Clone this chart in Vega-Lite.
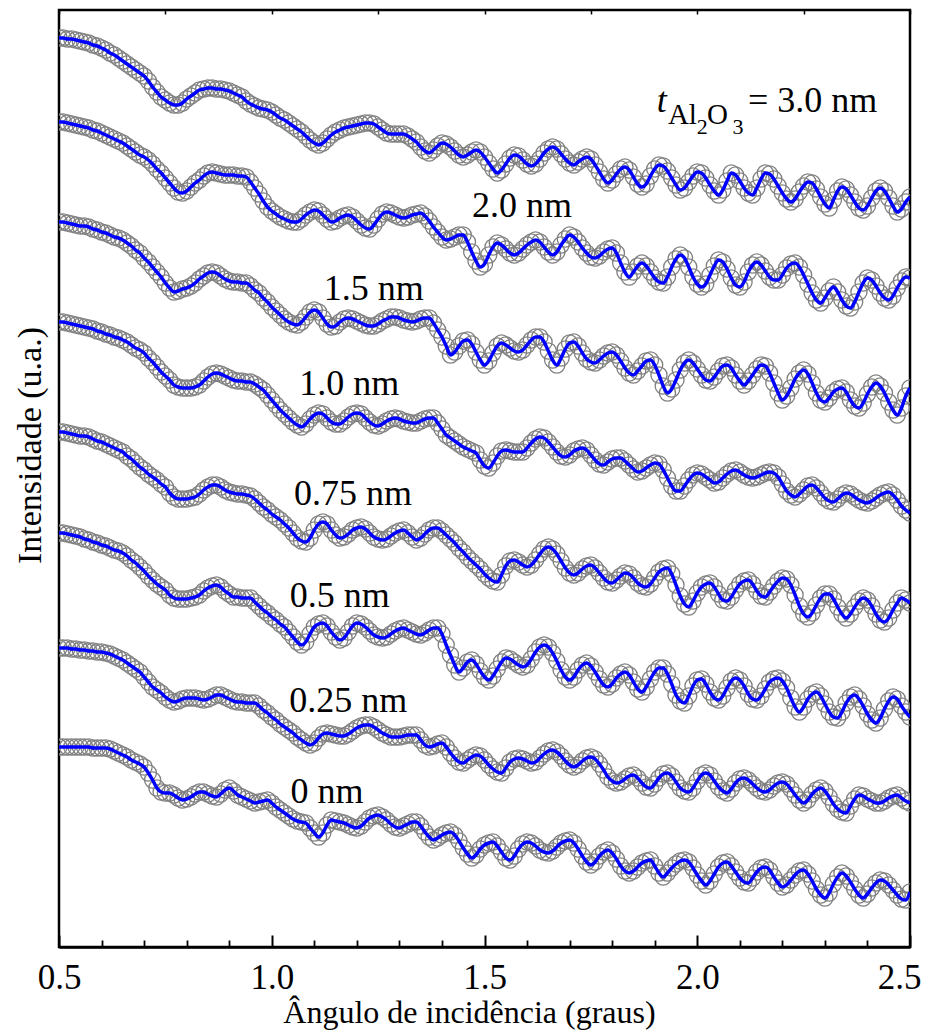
{
"$schema": "https://vega.github.io/schema/vega-lite/v6.json",
"width": 851, "height": 937,
"autosize": "none",
"padding": {"left": 59, "top": 10, "right": 20, "bottom": 86},
"background": "white",
"config": {"view": {"stroke": "black", "strokeWidth": 2.5}, "font": "'Liberation Serif', 'DejaVu Serif', serif"},
"datasets": {
"curves": [
{"x":0.50,"A":962,"B":878,"C":778,"D":678,"E":568,"F":467,"G":352,"H":253},
{"x":0.51,"A":962,"B":878,"C":778,"D":678,"E":568,"F":467,"G":352,"H":253},
{"x":0.52,"A":961,"B":877,"C":777,"D":677,"E":567,"F":466,"G":352,"H":253},
{"x":0.53,"A":961,"B":876,"C":776,"D":676,"E":566,"F":465,"G":351,"H":253},
{"x":0.54,"A":960,"B":875,"C":775,"D":675,"E":565,"F":464,"G":351,"H":253},
{"x":0.55,"A":959,"B":874,"C":774,"D":674,"E":564,"F":463,"G":350,"H":253},
{"x":0.56,"A":958,"B":873,"C":774,"D":673,"E":564,"F":461,"G":350,"H":253},
{"x":0.57,"A":957,"B":872,"C":773,"D":672,"E":563,"F":460,"G":349,"H":253},
{"x":0.58,"A":955,"B":870,"C":771,"D":671,"E":561,"F":458,"G":349,"H":252},
{"x":0.59,"A":954,"B":869,"C":770,"D":669,"E":559,"F":457,"G":348,"H":252},
{"x":0.60,"A":952,"B":867,"C":768,"D":668,"E":558,"F":455,"G":348,"H":252},
{"x":0.61,"A":950,"B":865,"C":767,"D":666,"E":556,"F":454,"G":347,"H":252},
{"x":0.62,"A":947,"B":863,"C":765,"D":665,"E":554,"F":452,"G":346,"H":251},
{"x":0.63,"A":945,"B":861,"C":763,"D":663,"E":552,"F":450,"G":344,"H":249},
{"x":0.64,"A":942,"B":859,"C":762,"D":662,"E":550,"F":449,"G":342,"H":247},
{"x":0.65,"A":939,"B":857,"C":760,"D":660,"E":548,"F":447,"G":340,"H":245},
{"x":0.66,"A":936,"B":854,"C":757,"D":658,"E":544,"F":444,"G":337,"H":243},
{"x":0.67,"A":933,"B":851,"C":754,"D":655,"E":541,"F":440,"G":334,"H":240},
{"x":0.68,"A":930,"B":848,"C":750,"D":652,"E":537,"F":437,"G":331,"H":238},
{"x":0.69,"A":927,"B":845,"C":747,"D":650,"E":533,"F":433,"G":328,"H":236},
{"x":0.70,"A":924,"B":843,"C":742,"D":647,"E":530,"F":429,"G":323,"H":233},
{"x":0.71,"A":919,"B":840,"C":738,"D":642,"E":526,"F":424,"G":318,"H":227},
{"x":0.72,"A":913,"B":836,"C":733,"D":638,"E":523,"F":420,"G":313,"H":220},
{"x":0.73,"A":908,"B":831,"C":728,"D":633,"E":520,"F":416,"G":310,"H":212},
{"x":0.74,"A":903,"B":827,"C":723,"D":628,"E":516,"F":413,"G":307,"H":208},
{"x":0.75,"A":900,"B":822,"C":717,"D":624,"E":513,"F":410,"G":303,"H":207},
{"x":0.76,"A":897,"B":817,"C":712,"D":620,"E":507,"F":405,"G":300,"H":207},
{"x":0.77,"A":895,"B":812,"C":708,"D":615,"E":503,"F":402,"G":298,"H":205},
{"x":0.78,"A":895,"B":808,"C":709,"D":613,"E":501,"F":401,"G":299,"H":202},
{"x":0.79,"A":897,"B":807,"C":711,"D":612,"E":501,"F":401,"G":301,"H":200},
{"x":0.80,"A":901,"B":809,"C":712,"D":612,"E":501,"F":401,"G":302,"H":201},
{"x":0.81,"A":904,"B":813,"C":714,"D":612,"E":502,"F":402,"G":302,"H":203},
{"x":0.82,"A":907,"B":817,"C":717,"D":613,"E":503,"F":403,"G":302,"H":206},
{"x":0.83,"A":910,"B":820,"C":721,"D":615,"E":506,"F":405,"G":301,"H":208},
{"x":0.84,"A":911,"B":824,"C":724,"D":619,"E":510,"F":409,"G":300,"H":208},
{"x":0.85,"A":912,"B":827,"C":727,"D":623,"E":513,"F":412,"G":301,"H":206},
{"x":0.86,"A":912,"B":828,"C":728,"D":626,"E":515,"F":414,"G":303,"H":204},
{"x":0.87,"A":911,"B":827,"C":727,"D":627,"E":515,"F":415,"G":305,"H":203},
{"x":0.88,"A":911,"B":826,"C":724,"D":626,"E":513,"F":413,"G":305,"H":206},
{"x":0.89,"A":910,"B":825,"C":721,"D":624,"E":510,"F":409,"G":303,"H":210},
{"x":0.90,"A":909,"B":825,"C":719,"D":622,"E":508,"F":406,"G":301,"H":212},
{"x":0.91,"A":907,"B":825,"C":718,"D":620,"E":507,"F":403,"G":299,"H":209},
{"x":0.92,"A":905,"B":824,"C":718,"D":619,"E":506,"F":403,"G":298,"H":205},
{"x":0.93,"A":903,"B":824,"C":717,"D":619,"E":506,"F":402,"G":298,"H":203},
{"x":0.94,"A":899,"B":823,"C":717,"D":618,"E":505,"F":402,"G":297,"H":201},
{"x":0.95,"A":896,"B":818,"C":714,"D":618,"E":504,"F":402,"G":297,"H":199},
{"x":0.96,"A":894,"B":812,"C":710,"D":616,"E":501,"F":398,"G":297,"H":197},
{"x":0.97,"A":892,"B":806,"C":707,"D":613,"E":497,"F":394,"G":294,"H":198},
{"x":0.98,"A":891,"B":799,"C":702,"D":610,"E":493,"F":390,"G":290,"H":199},
{"x":0.99,"A":890,"B":793,"C":698,"D":605,"E":490,"F":387,"G":287,"H":200},
{"x":1.00,"A":888,"B":789,"C":693,"D":600,"E":486,"F":383,"G":283,"H":197},
{"x":1.01,"A":885,"B":786,"C":689,"D":595,"E":483,"F":380,"G":280,"H":193},
{"x":1.02,"A":882,"B":783,"C":685,"D":590,"E":480,"F":376,"G":276,"H":190},
{"x":1.03,"A":880,"B":781,"C":681,"D":586,"E":476,"F":373,"G":273,"H":187},
{"x":1.04,"A":877,"B":779,"C":678,"D":582,"E":472,"F":368,"G":270,"H":184},
{"x":1.05,"A":874,"B":778,"C":676,"D":578,"E":467,"F":363,"G":267,"H":181},
{"x":1.06,"A":871,"B":778,"C":675,"D":575,"E":462,"F":358,"G":263,"H":179},
{"x":1.07,"A":868,"B":781,"C":678,"D":573,"E":459,"F":355,"G":260,"H":178},
{"x":1.08,"A":864,"B":785,"C":683,"D":576,"E":458,"F":358,"G":257,"H":177},
{"x":1.09,"A":860,"B":788,"C":688,"D":581,"E":462,"F":366,"G":255,"H":172},
{"x":1.10,"A":857,"B":790,"C":690,"D":585,"E":470,"F":373,"G":257,"H":167},
{"x":1.11,"A":855,"B":789,"C":688,"D":587,"E":476,"F":376,"G":262,"H":163},
{"x":1.12,"A":857,"B":785,"C":682,"D":586,"E":478,"F":377,"G":266,"H":167},
{"x":1.13,"A":861,"B":781,"C":676,"D":582,"E":476,"F":374,"G":267,"H":175},
{"x":1.14,"A":865,"B":778,"C":673,"D":578,"E":470,"F":368,"G":266,"H":180},
{"x":1.15,"A":868,"B":779,"C":674,"D":576,"E":465,"F":363,"G":265,"H":179},
{"x":1.16,"A":870,"B":782,"C":678,"D":576,"E":462,"F":360,"G":264,"H":178},
{"x":1.17,"A":872,"B":784,"C":681,"D":579,"E":463,"F":362,"G":264,"H":177},
{"x":1.18,"A":873,"B":785,"C":682,"D":583,"E":466,"F":368,"G":266,"H":175},
{"x":1.19,"A":874,"B":783,"C":681,"D":586,"E":470,"F":374,"G":269,"H":173},
{"x":1.20,"A":875,"B":779,"C":679,"D":587,"E":472,"F":377,"G":272,"H":172},
{"x":1.21,"A":876,"B":775,"C":677,"D":586,"E":473,"F":376,"G":274,"H":174},
{"x":1.22,"A":877,"B":772,"C":675,"D":582,"E":471,"F":373,"G":275,"H":178},
{"x":1.23,"A":877,"B":771,"C":674,"D":578,"E":467,"F":369,"G":275,"H":182},
{"x":1.24,"A":876,"B":775,"C":674,"D":575,"E":463,"F":365,"G":273,"H":184},
{"x":1.25,"A":873,"B":781,"C":676,"D":574,"E":461,"F":363,"G":270,"H":185},
{"x":1.26,"A":870,"B":786,"C":679,"D":576,"E":460,"F":362,"G":267,"H":183},
{"x":1.27,"A":867,"B":788,"C":681,"D":579,"E":461,"F":363,"G":265,"H":180},
{"x":1.28,"A":866,"B":787,"C":683,"D":581,"E":464,"F":366,"G":263,"H":176},
{"x":1.29,"A":866,"B":785,"C":683,"D":582,"E":467,"F":369,"G":263,"H":173},
{"x":1.30,"A":866,"B":783,"C":682,"D":581,"E":469,"F":371,"G":263,"H":172},
{"x":1.31,"A":866,"B":782,"C":680,"D":579,"E":470,"F":372,"G":264,"H":174},
{"x":1.32,"A":864,"B":783,"C":679,"D":578,"E":467,"F":370,"G":265,"H":176},
{"x":1.33,"A":861,"B":785,"C":678,"D":577,"E":463,"F":368,"G":265,"H":178},
{"x":1.34,"A":858,"B":786,"C":679,"D":577,"E":460,"F":366,"G":265,"H":178},
{"x":1.35,"A":853,"B":787,"C":681,"D":579,"E":462,"F":365,"G":260,"H":174},
{"x":1.36,"A":849,"B":784,"C":682,"D":581,"E":466,"F":367,"G":255,"H":168},
{"x":1.37,"A":847,"B":779,"C":682,"D":582,"E":470,"F":370,"G":253,"H":163},
{"x":1.38,"A":850,"B":773,"C":677,"D":582,"E":472,"F":372,"G":254,"H":160},
{"x":1.39,"A":854,"B":768,"C":670,"D":577,"E":472,"F":372,"G":256,"H":162},
{"x":1.40,"A":857,"B":763,"C":663,"D":571,"E":469,"F":366,"G":257,"H":165},
{"x":1.41,"A":856,"B":760,"C":654,"D":565,"E":465,"F":355,"G":253,"H":167},
{"x":1.42,"A":853,"B":761,"C":645,"D":562,"E":461,"F":345,"G":247,"H":168},
{"x":1.43,"A":849,"B":763,"C":648,"D":559,"E":457,"F":335,"G":242,"H":165},
{"x":1.44,"A":845,"B":765,"C":654,"D":556,"E":452,"F":328,"G":238,"H":159},
{"x":1.45,"A":843,"B":765,"C":659,"D":553,"E":448,"F":332,"G":237,"H":152},
{"x":1.46,"A":845,"B":758,"C":660,"D":551,"E":443,"F":338,"G":240,"H":146},
{"x":1.47,"A":848,"B":748,"C":656,"D":549,"E":439,"F":340,"G":243,"H":142},
{"x":1.48,"A":850,"B":739,"C":648,"D":547,"E":435,"F":336,"G":245,"H":145},
{"x":1.49,"A":848,"B":733,"C":640,"D":540,"E":431,"F":329,"G":244,"H":151},
{"x":1.50,"A":843,"B":736,"C":635,"D":534,"E":426,"F":323,"G":240,"H":155},
{"x":1.51,"A":837,"B":745,"C":639,"D":532,"E":422,"F":320,"G":235,"H":157},
{"x":1.52,"A":831,"B":753,"C":647,"D":537,"E":419,"F":324,"G":231,"H":158},
{"x":1.53,"A":827,"B":757,"C":654,"D":544,"E":418,"F":331,"G":228,"H":154},
{"x":1.54,"A":830,"B":755,"C":657,"D":549,"E":425,"F":338,"G":227,"H":148},
{"x":1.55,"A":836,"B":751,"C":655,"D":550,"E":434,"F":342,"G":232,"H":142},
{"x":1.56,"A":842,"B":747,"C":652,"D":549,"E":439,"F":341,"G":238,"H":140},
{"x":1.57,"A":845,"B":745,"C":649,"D":548,"E":440,"F":338,"G":241,"H":144},
{"x":1.58,"A":844,"B":747,"C":648,"D":548,"E":438,"F":335,"G":242,"H":151},
{"x":1.59,"A":840,"B":751,"C":650,"D":548,"E":435,"F":333,"G":241,"H":156},
{"x":1.60,"A":836,"B":755,"C":655,"D":552,"E":433,"F":335,"G":239,"H":158},
{"x":1.61,"A":834,"B":758,"C":660,"D":557,"E":435,"F":341,"G":237,"H":157},
{"x":1.62,"A":836,"B":760,"C":663,"D":561,"E":440,"F":348,"G":238,"H":154},
{"x":1.63,"A":841,"B":758,"C":663,"D":563,"E":446,"F":353,"G":242,"H":150},
{"x":1.64,"A":847,"B":753,"C":658,"D":562,"E":451,"F":355,"G":246,"H":148},
{"x":1.65,"A":851,"B":748,"C":649,"D":558,"E":453,"F":353,"G":249,"H":147},
{"x":1.66,"A":853,"B":745,"C":640,"D":553,"E":451,"F":347,"G":250,"H":149},
{"x":1.67,"A":851,"B":748,"C":635,"D":548,"E":446,"F":339,"G":248,"H":153},
{"x":1.68,"A":846,"B":755,"C":642,"D":544,"E":439,"F":330,"G":244,"H":157},
{"x":1.69,"A":841,"B":761,"C":651,"D":543,"E":432,"F":323,"G":239,"H":159},
{"x":1.70,"A":837,"B":765,"C":657,"D":545,"E":427,"F":320,"G":235,"H":160},
{"x":1.71,"A":835,"B":763,"C":658,"D":549,"E":425,"F":323,"G":233,"H":157},
{"x":1.72,"A":838,"B":758,"C":654,"D":551,"E":427,"F":330,"G":235,"H":151},
{"x":1.73,"A":841,"B":752,"C":647,"D":552,"E":431,"F":335,"G":239,"H":144},
{"x":1.74,"A":843,"B":747,"C":641,"D":550,"E":434,"F":337,"G":242,"H":138},
{"x":1.75,"A":841,"B":743,"C":638,"D":545,"E":435,"F":334,"G":243,"H":135},
{"x":1.76,"A":835,"B":742,"C":637,"D":540,"E":432,"F":328,"G":241,"H":138},
{"x":1.77,"A":828,"B":744,"C":640,"D":536,"E":427,"F":321,"G":236,"H":144},
{"x":1.78,"A":821,"B":748,"C":644,"D":535,"E":422,"F":315,"G":230,"H":148},
{"x":1.79,"A":817,"B":751,"C":647,"D":538,"E":418,"F":313,"G":223,"H":150},
{"x":1.80,"A":820,"B":752,"C":648,"D":541,"E":417,"F":316,"G":219,"H":147},
{"x":1.81,"A":826,"B":747,"C":645,"D":542,"E":420,"F":322,"G":217,"H":141},
{"x":1.82,"A":831,"B":737,"C":639,"D":542,"E":424,"F":326,"G":218,"H":134},
{"x":1.83,"A":833,"B":728,"C":632,"D":539,"E":427,"F":328,"G":221,"H":129},
{"x":1.84,"A":830,"B":723,"C":627,"D":535,"E":426,"F":325,"G":224,"H":127},
{"x":1.85,"A":823,"B":728,"C":625,"D":531,"E":422,"F":318,"G":225,"H":129},
{"x":1.86,"A":816,"B":734,"C":629,"D":528,"E":417,"F":311,"G":222,"H":133},
{"x":1.87,"A":813,"B":737,"C":634,"D":529,"E":414,"F":308,"G":217,"H":137},
{"x":1.88,"A":816,"B":734,"C":639,"D":532,"E":413,"F":313,"G":213,"H":139},
{"x":1.89,"A":824,"B":728,"C":640,"D":535,"E":416,"F":321,"G":212,"H":140},
{"x":1.90,"A":831,"B":722,"C":635,"D":537,"E":422,"F":328,"G":216,"H":134},
{"x":1.91,"A":835,"B":718,"C":625,"D":536,"E":428,"F":332,"G":222,"H":127},
{"x":1.92,"A":834,"B":717,"C":614,"D":530,"E":431,"F":332,"G":226,"H":123},
{"x":1.93,"A":829,"B":723,"C":607,"D":522,"E":432,"F":326,"G":227,"H":127},
{"x":1.94,"A":822,"B":733,"C":611,"D":514,"E":426,"F":316,"G":224,"H":132},
{"x":1.95,"A":815,"B":741,"C":620,"D":509,"E":415,"F":305,"G":218,"H":136},
{"x":1.96,"A":810,"B":745,"C":630,"D":509,"E":404,"F":299,"G":212,"H":139},
{"x":1.97,"A":812,"B":742,"C":637,"D":514,"E":396,"F":297,"G":209,"H":140},
{"x":1.98,"A":818,"B":733,"C":640,"D":520,"E":393,"F":304,"G":208,"H":138},
{"x":1.99,"A":824,"B":723,"C":637,"D":525,"E":399,"F":314,"G":212,"H":132},
{"x":2.00,"A":828,"B":716,"C":631,"D":527,"E":407,"F":320,"G":219,"H":125},
{"x":2.01,"A":827,"B":713,"C":625,"D":526,"E":413,"F":321,"G":225,"H":119},
{"x":2.02,"A":822,"B":716,"C":620,"D":523,"E":416,"F":316,"G":227,"H":115},
{"x":2.03,"A":815,"B":725,"C":619,"D":520,"E":417,"F":308,"G":225,"H":119},
{"x":2.04,"A":809,"B":734,"C":623,"D":517,"E":413,"F":302,"G":219,"H":126},
{"x":2.05,"A":805,"B":740,"C":629,"D":518,"E":406,"F":300,"G":213,"H":133},
{"x":2.06,"A":810,"B":738,"C":634,"D":522,"E":400,"F":304,"G":209,"H":137},
{"x":2.07,"A":819,"B":731,"C":635,"D":526,"E":399,"F":312,"G":207,"H":138},
{"x":2.08,"A":827,"B":722,"C":632,"D":529,"E":403,"F":319,"G":211,"H":134},
{"x":2.09,"A":825,"B":715,"C":625,"D":530,"E":410,"F":322,"G":217,"H":128},
{"x":2.10,"A":819,"B":713,"C":619,"D":528,"E":416,"F":320,"G":221,"H":122},
{"x":2.11,"A":812,"B":718,"C":615,"D":525,"E":419,"F":314,"G":222,"H":118},
{"x":2.12,"A":807,"B":728,"C":619,"D":523,"E":420,"F":306,"G":220,"H":117},
{"x":2.13,"A":805,"B":735,"C":625,"D":522,"E":416,"F":301,"G":216,"H":122},
{"x":2.14,"A":812,"B":738,"C":631,"D":523,"E":409,"F":300,"G":212,"H":128},
{"x":2.15,"A":821,"B":735,"C":635,"D":525,"E":404,"F":304,"G":209,"H":132},
{"x":2.16,"A":827,"B":729,"C":634,"D":527,"E":403,"F":311,"G":208,"H":133},
{"x":2.17,"A":826,"B":723,"C":627,"D":528,"E":408,"F":318,"G":210,"H":130},
{"x":2.18,"A":821,"B":720,"C":617,"D":527,"E":414,"F":321,"G":214,"H":123},
{"x":2.19,"A":814,"B":720,"C":607,"D":523,"E":419,"F":322,"G":217,"H":117},
{"x":2.20,"A":807,"B":725,"C":600,"D":516,"E":422,"F":319,"G":218,"H":113},
{"x":2.21,"A":801,"B":732,"C":604,"D":509,"E":421,"F":312,"G":216,"H":115},
{"x":2.22,"A":798,"B":736,"C":612,"D":505,"E":415,"F":302,"G":211,"H":120},
{"x":2.23,"A":801,"B":737,"C":621,"D":503,"E":405,"F":293,"G":205,"H":125},
{"x":2.24,"A":808,"B":733,"C":627,"D":506,"E":394,"F":288,"G":200,"H":129},
{"x":2.25,"A":814,"B":725,"C":630,"D":510,"E":386,"F":293,"G":197,"H":130},
{"x":2.26,"A":818,"B":716,"C":626,"D":514,"E":383,"F":301,"G":200,"H":126},
{"x":2.27,"A":817,"B":707,"C":617,"D":515,"E":387,"F":306,"G":206,"H":119},
{"x":2.28,"A":811,"B":700,"C":607,"D":512,"E":395,"F":308,"G":210,"H":111},
{"x":2.29,"A":803,"B":697,"C":600,"D":507,"E":402,"F":304,"G":212,"H":105},
{"x":2.30,"A":796,"B":702,"C":598,"D":502,"E":406,"F":296,"G":209,"H":102},
{"x":2.31,"A":792,"B":709,"C":602,"D":499,"E":406,"F":288,"G":203,"H":107},
{"x":2.32,"A":800,"B":713,"C":608,"D":498,"E":401,"F":283,"G":196,"H":116},
{"x":2.33,"A":809,"B":708,"C":611,"D":501,"E":393,"F":282,"G":191,"H":123},
{"x":2.34,"A":813,"B":700,"C":612,"D":505,"E":386,"F":288,"G":188,"H":127},
{"x":2.35,"A":811,"B":694,"C":608,"D":507,"E":382,"F":297,"G":187,"H":124},
{"x":2.36,"A":805,"B":692,"C":600,"D":506,"E":386,"F":303,"G":194,"H":118},
{"x":2.37,"A":798,"B":698,"C":594,"D":503,"E":393,"F":305,"G":201,"H":111},
{"x":2.38,"A":792,"B":708,"C":592,"D":500,"E":399,"F":301,"G":205,"H":105},
{"x":2.39,"A":790,"B":717,"C":597,"D":498,"E":402,"F":294,"G":204,"H":102},
{"x":2.40,"A":794,"B":722,"C":606,"D":497,"E":400,"F":286,"G":201,"H":106},
{"x":2.41,"A":802,"B":720,"C":613,"D":499,"E":394,"F":280,"G":199,"H":112},
{"x":2.42,"A":809,"B":714,"C":617,"D":502,"E":386,"F":277,"G":197,"H":117},
{"x":2.43,"A":812,"B":707,"C":614,"D":505,"E":380,"F":282,"G":197,"H":120},
{"x":2.44,"A":809,"B":702,"C":607,"D":507,"E":378,"F":291,"G":199,"H":119},
{"x":2.45,"A":802,"B":700,"C":598,"D":508,"E":382,"F":299,"G":202,"H":115},
{"x":2.46,"A":794,"B":704,"C":590,"D":505,"E":390,"F":303,"G":204,"H":110},
{"x":2.47,"A":788,"B":712,"C":585,"D":500,"E":397,"F":301,"G":205,"H":105},
{"x":2.48,"A":791,"B":719,"C":592,"D":494,"E":402,"F":294,"G":202,"H":101},
{"x":2.49,"A":798,"B":723,"C":604,"D":490,"E":400,"F":288,"G":199,"H":100},
{"x":2.50,"A":803,"B":722,"C":612,"D":487,"E":397,"F":283,"G":197,"H":108}
],
"labels": [
{"t":"2.0 nm","x":1.588,"v":783},
{"t":"1.5 nm","x":1.240,"v":700},
{"t":"1.0 nm","x":1.182,"v":605},
{"t":"0.75 nm","x":1.191,"v":495},
{"t":"0.5 nm","x":1.160,"v":393},
{"t":"0.25 nm","x":1.180,"v":288},
{"t":"0 nm","x":1.130,"v":197}
],
"tvar": [{"t":"t","x":1.905,"v":888}],
"tsub": [{"t":"Al","x":1.931,"v":876},{"t":"O","x":2.023,"v":876}],
"tsub2": [{"t":"2","x":1.999,"v":866},{"t":"3","x":2.083,"v":866}],
"tval": [{"t":"= 3.0 nm","x":2.119,"v":888}]
},
"layer": [
{
"data": {"name": "curves"},
"transform": [{"fold": ["A","B","C","D","E","F","G","H"], "as": ["curve","v"]}],
"mark": {"type": "point", "shape": "circle", "filled": false, "stroke": "#808080", "strokeWidth": 1.3, "size": 260, "opacity": 1, "clip": true},
"encoding": {
"x": {"field": "x", "type": "quantitative", "scale": {"domain": [0.5, 2.5], "nice": false, "zero": false},
"axis": {"orient": "bottom", "values": [0.5,1,1.5,2,2.5], "format": ".1f", "grid": false, "tickSize": -12, "tickWidth": 2, "tickColor": "black", "domainColor": "black", "domainWidth": 2.5, "labelFont": "'Liberation Serif', 'DejaVu Serif', serif", "labelFontSize": 35, "labelColor": "black", "labelPadding": 25, "labelFlush": false, "labelOffset": {"condition": {"test": "datum.value >= 2.49", "value": -11}, "value": 0}, "title": "Ângulo de incidência (graus)", "titleFont": "'Liberation Serif', 'DejaVu Serif', serif", "titleFontSize": 32, "titleFontWeight": "normal", "titleColor": "black", "titleBaseline": "alphabetic", "titleX": 410, "titleY": 75}},
"y": {"field": "v", "type": "quantitative", "scale": {"domain": [53, 990], "nice": false, "zero": false},
"axis": {"orient": "left", "grid": false, "ticks": false, "labels": false, "domain": false, "title": "Intensidade (u.a.)", "titleFont": "'Liberation Serif', 'DejaVu Serif', serif", "titleFontSize": 34, "titleFontWeight": "normal", "titleColor": "black", "titleAngle": -90, "titleBaseline": "middle", "titleX": -29, "titleY": 435}},
"detail": {"field": "curve"}
}
},
{
"data": {"name": "curves"},
"transform": [{"fold": ["A","B","C","D","E","F","G","H"], "as": ["curve","v"]}],
"mark": {"type": "line", "stroke": "#0000ff", "strokeWidth": 3.5, "interpolate": "monotone", "clip": true},
"encoding": {
"x": {"field": "x", "type": "quantitative", "scale": {"domain": [0.5, 2.5], "nice": false, "zero": false},
"axis": {"orient": "bottom", "values": [0.6,0.7,0.8,0.9,1.1,1.2,1.3,1.4,1.6,1.7,1.8,1.9,2.1,2.2,2.3,2.4], "grid": false, "tickSize": -7, "tickWidth": 1.8, "tickColor": "black", "labels": false, "domain": false, "title": null}},
"y": {"field": "v", "type": "quantitative", "scale": {"domain": [53, 990], "nice": false, "zero": false}, "axis": null},
"detail": {"field": "curve"}
}
},
{
"data": {"name": "labels"},
"mark": {"type": "text", "font": "'Liberation Serif', 'DejaVu Serif', serif", "fontSize": 36, "color": "black", "align": "center", "baseline": "alphabetic"},
"encoding": {
"x": {"field": "x", "type": "quantitative", "scale": {"domain": [0.5, 2.5], "nice": false, "zero": false},
"axis": {"orient": "top", "values": [0.5,0.75,1,1.25,1.5,1.75,2,2.25,2.5], "grid": false, "tickSize": -4, "tickWidth": 1.5, "tickColor": "black", "labels": false, "domain": false, "title": null}},
"y": {"field": "v", "type": "quantitative", "scale": {"domain": [53, 990], "nice": false, "zero": false}, "axis": null},
"text": {"field": "t"}
}
},
{
"data": {"name": "tvar"},
"mark": {"type": "text", "font": "'Liberation Serif', 'DejaVu Serif', serif", "fontSize": 36, "fontStyle": "italic", "color": "black", "align": "left", "baseline": "alphabetic"},
"encoding": {
"x": {"field": "x", "type": "quantitative", "scale": {"domain": [0.5, 2.5], "nice": false, "zero": false}, "axis": null},
"y": {"field": "v", "type": "quantitative", "scale": {"domain": [53, 990], "nice": false, "zero": false}, "axis": null},
"text": {"field": "t"}
}
},
{
"data": {"name": "tsub"},
"mark": {"type": "text", "font": "'Liberation Serif', 'DejaVu Serif', serif", "fontSize": 29, "color": "black", "align": "left", "baseline": "alphabetic"},
"encoding": {
"x": {"field": "x", "type": "quantitative", "scale": {"domain": [0.5, 2.5], "nice": false, "zero": false}, "axis": null},
"y": {"field": "v", "type": "quantitative", "scale": {"domain": [53, 990], "nice": false, "zero": false}, "axis": null},
"text": {"field": "t"}
}
},
{
"data": {"name": "tsub2"},
"mark": {"type": "text", "font": "'Liberation Serif', 'DejaVu Serif', serif", "fontSize": 22, "color": "black", "align": "left", "baseline": "alphabetic"},
"encoding": {
"x": {"field": "x", "type": "quantitative", "scale": {"domain": [0.5, 2.5], "nice": false, "zero": false}, "axis": null},
"y": {"field": "v", "type": "quantitative", "scale": {"domain": [53, 990], "nice": false, "zero": false}, "axis": null},
"text": {"field": "t"}
}
},
{
"data": {"name": "tval"},
"mark": {"type": "text", "font": "'Liberation Serif', 'DejaVu Serif', serif", "fontSize": 36, "color": "black", "align": "left", "baseline": "alphabetic"},
"encoding": {
"x": {"field": "x", "type": "quantitative", "scale": {"domain": [0.5, 2.5], "nice": false, "zero": false}, "axis": null},
"y": {"field": "v", "type": "quantitative", "scale": {"domain": [53, 990], "nice": false, "zero": false}, "axis": null},
"text": {"field": "t"}
}
}
],
"resolve": {"axis": {"x": "independent", "y": "independent"}}
}
